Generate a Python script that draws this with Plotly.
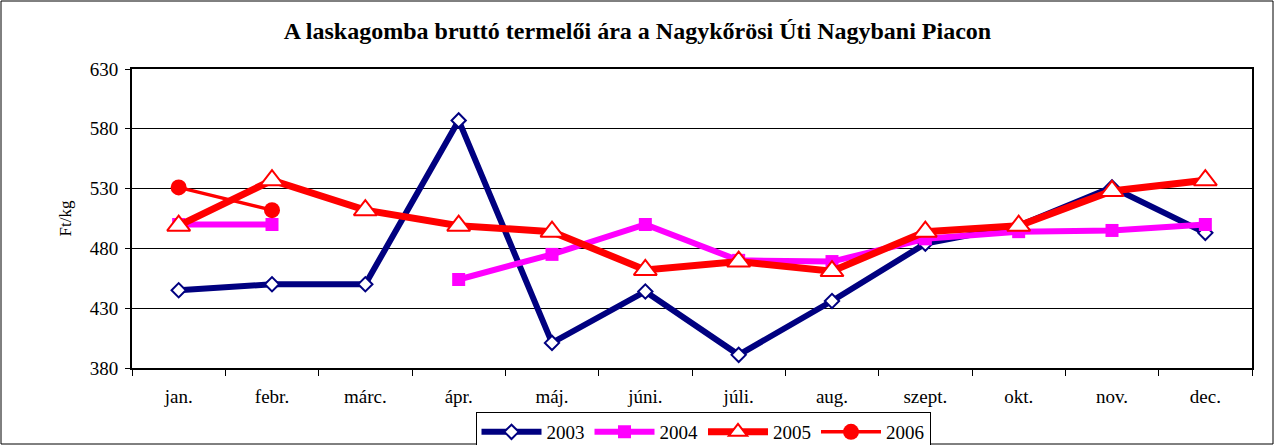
import plotly.graph_objects as go

months = ["jan.", "febr.", "márc.", "ápr.", "máj.", "júni.", "júli.", "aug.", "szept.", "okt.", "nov.", "dec."]
y2003 = [445, 450, 450, 587, 401, 444, 391, 436, 484, 499, 531, 493]
y2004 = [500, 500, None, 454, 475, 500, 470, 469, 488, 494, 495, 500]
y2005 = [499, 537, 512, 499, 494, 462, 469, 461, 494, 499, 528, 537]
y2006 = [531, 512]
months2006 = months[:2]

W, H = 1275, 445
L, R, T, B = 132, 23, 69, 77
pw, ph = W - L - R, H - T - B

fig = go.Figure()
fig.add_trace(go.Scatter(x=months, y=y2003, name="2003", mode="lines+markers",
    line=dict(color="#000080", width=6),
    marker=dict(symbol="diamond", size=11, color="white", line=dict(color="#000080", width=2))))
fig.add_trace(go.Scatter(x=months, y=y2004, name="2004", mode="lines+markers",
    line=dict(color="#FF00FF", width=6),
    marker=dict(symbol="square", size=13, color="#FF00FF")))
fig.add_trace(go.Scatter(x=months, y=y2005, name="2005", mode="lines+markers",
    line=dict(color="#FF0000", width=7),
    marker=dict(symbol="triangle-up", size=20, color="white", line=dict(color="#FF0000", width=2))))
fig.add_trace(go.Scatter(x=months2006, y=y2006, name="2006", mode="lines+markers",
    line=dict(color="#FF0000", width=3.5),
    marker=dict(symbol="circle", size=16, color="#FF0000")))

font = "Liberation Serif, Times New Roman, serif"
fig.update_layout(
    width=W, height=H,
    margin=dict(l=L, r=R, t=T, b=B, autoexpand=False),
    paper_bgcolor="white", plot_bgcolor="white",
    font=dict(family=font, size=19, color="black"),
    title=dict(text="<b>A laskagomba bruttó termelői ára a Nagykőrösi Úti Nagybani Piacon</b>",
               x=0.5, xanchor="center", y=1 - 31 / H, yanchor="middle",
               font=dict(family=font, size=24, color="black")),
    showlegend=True,
    legend=dict(orientation="h", x=(703 - L) / pw, xanchor="center", y=-44 / ph, yanchor="top",
                bordercolor="black", borderwidth=1, bgcolor="white",
                font=dict(family=font, size=19, color="black"),
                itemwidth=60, tracegroupgap=0),
    xaxis=dict(type="category", categoryorder="array", categoryarray=months,
               range=[-0.5, 11.5], showline=True, linecolor="black", linewidth=2, mirror=True,
               ticks="outside", ticklen=6, tickcolor="black", tickson="boundaries",
               showgrid=False, tickfont=dict(family=font, size=19), zeroline=False,
               automargin=False, ticklabelstandoff=10),
    yaxis=dict(range=[380, 630], dtick=50, tick0=380, showline=True, linecolor="black",
               linewidth=2, mirror=True, ticks="outside", ticklen=5, tickcolor="black",
               showgrid=True, gridcolor="black", gridwidth=1, zeroline=False,
               tickfont=dict(family=font, size=19), automargin=False, ticklabelstandoff=3,
               title=dict(text="Ft/kg", font=dict(family=font, size=17), standoff=14)),
)

fig.add_shape(type="rect", xref="paper", yref="paper",
              x0=-(L - 1) / pw, x1=1 + (R - 2) / pw, y0=-(B - 1) / ph, y1=1 + (T - 1) / ph,
              line=dict(color="black", width=1), fillcolor="rgba(0,0,0,0)", layer="below")

fig.write_html("out.html", config={"displayModeBar": False},
               post_script="document.body.style.margin='0';document.body.style.overflow='hidden';")
